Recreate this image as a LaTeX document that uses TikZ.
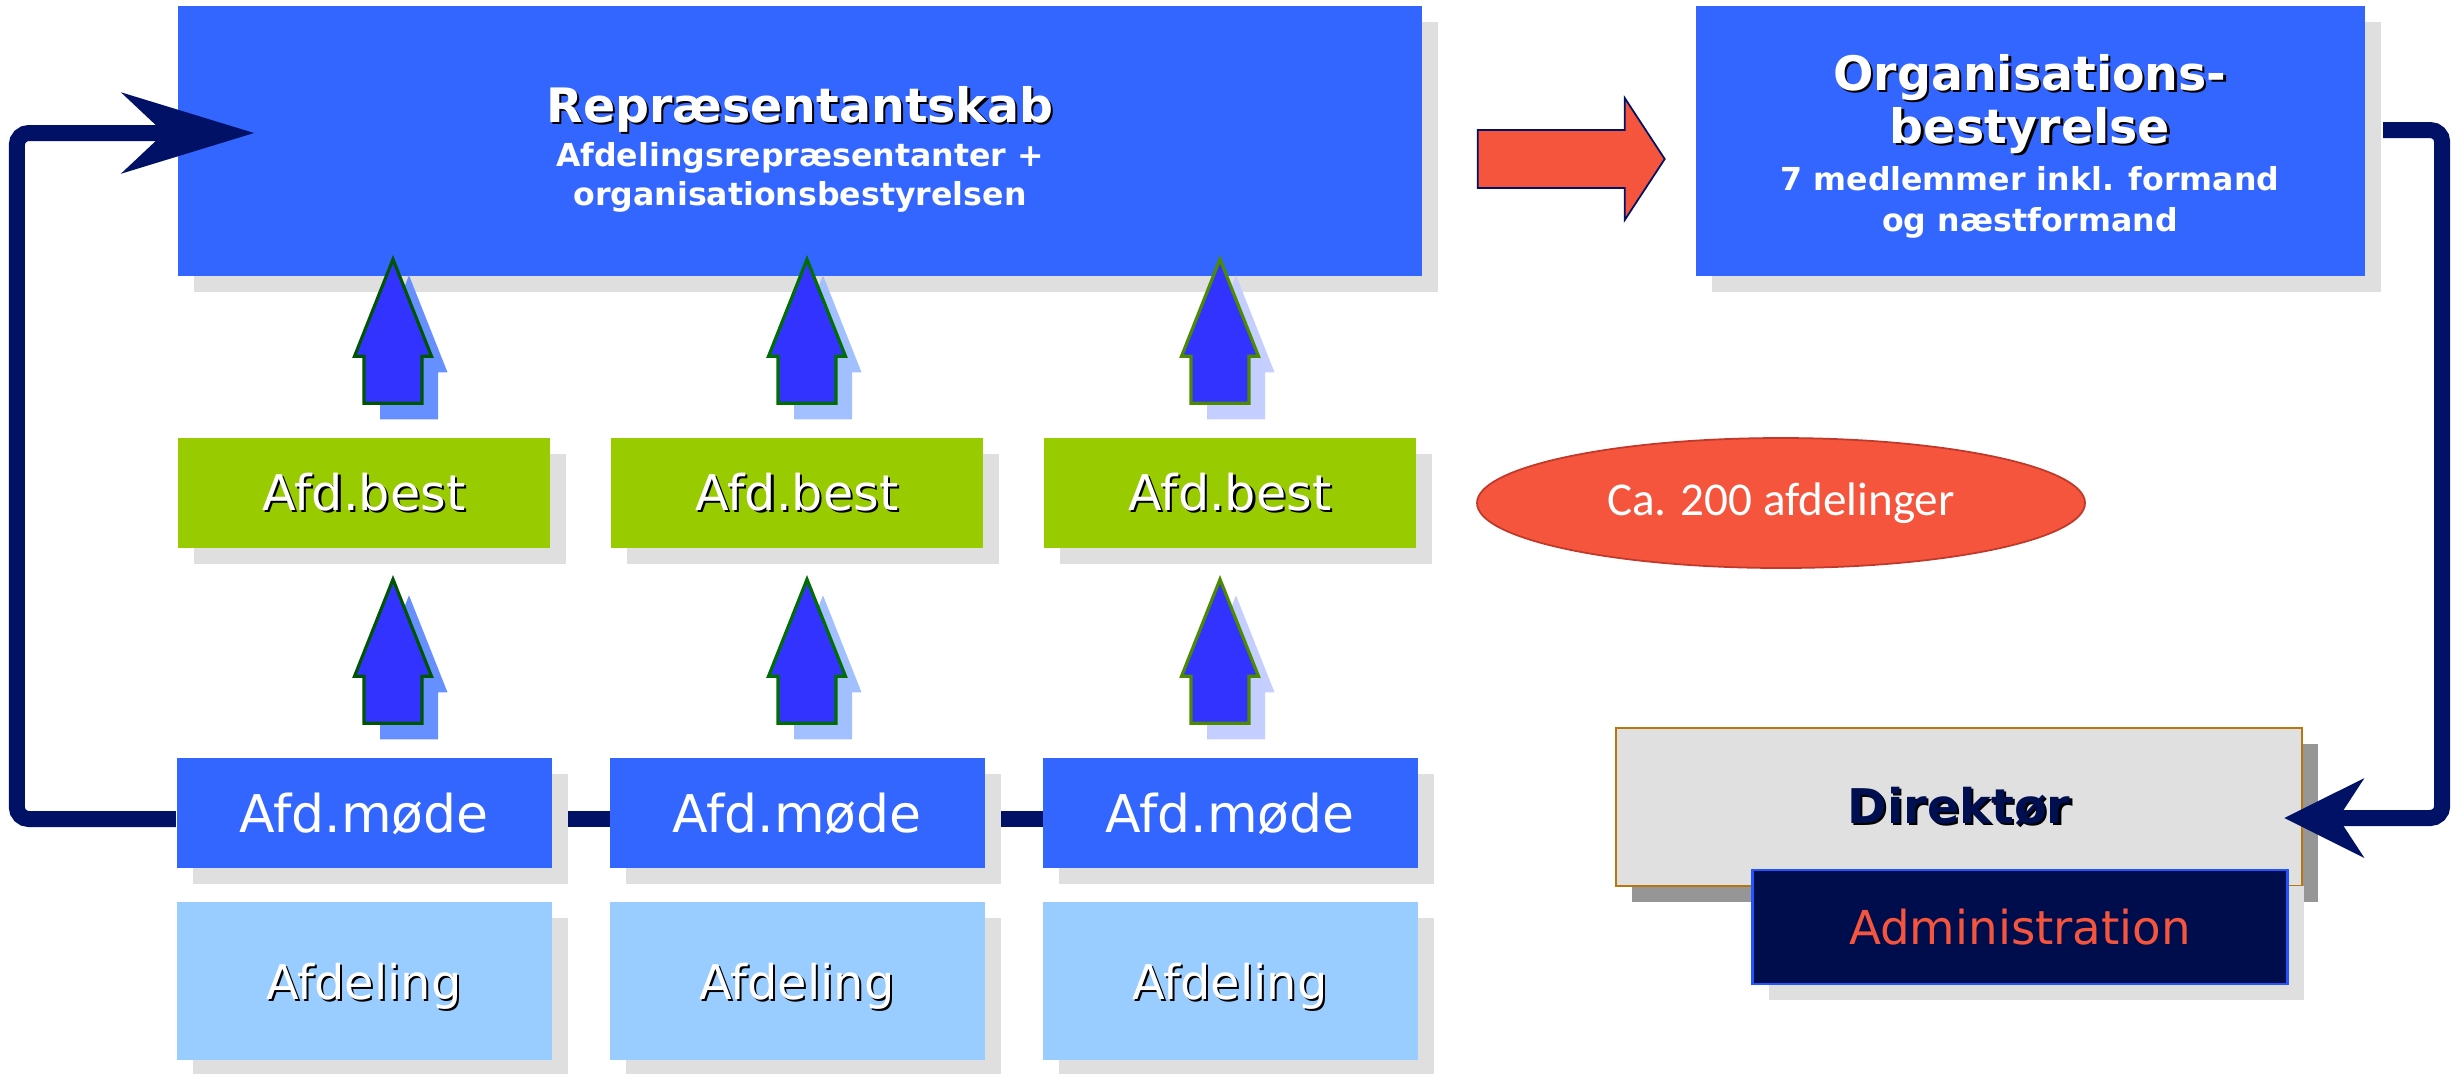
\documentclass[tikz,border=0pt]{standalone}
\usepackage{fontspec}
\setmainfont{DejaVu Sans}
\newfontfamily\carlito{Carlito}
\usetikzlibrary{positioning,calc,shadows,shapes.geometric,arrows.meta}
\pgfdeclarelayer{background}
\pgfsetlayers{background,main}

\definecolor{boxblue}{HTML}{3366FF}
\definecolor{bestgreen}{HTML}{99CC00}
\definecolor{afdblue}{HTML}{99CCFF}
\definecolor{shadowgrey}{HTML}{DFDFDF}
\definecolor{navy}{RGB}{0,17,102}
\definecolor{arrowblue}{HTML}{3333FF}
\definecolor{rimA}{HTML}{005500}
\definecolor{rimB}{HTML}{006E00}
\definecolor{rimC}{HTML}{4C8A00}
\definecolor{shadeA}{HTML}{6690FF}
\definecolor{shadeB}{HTML}{A2BFFF}
\definecolor{shadeC}{HTML}{C4CEFF}
\definecolor{redfill}{RGB}{245,85,60}
\definecolor{ovalrim}{HTML}{C0392B}
\definecolor{dirgrey}{HTML}{E0E0E0}
\definecolor{dirrim}{HTML}{B8760F}
\definecolor{dirshadow}{HTML}{969696}
\definecolor{dirtext}{RGB}{0,15,80}
\definecolor{admnavy}{RGB}{0,13,77}
\definecolor{admrim}{HTML}{2255FF}

% white text with a small dark shadow
\newcommand{\txtshadow}[1]{\makebox[0pt][l]{\raisebox{-0.6pt}{\hspace{0.6pt}\textcolor{black}{#1}}}#1}

\begin{document}
\begin{tikzpicture}[node distance=4.33cm]
    % Define styles for boxes and arrows
    \tikzset{greyshadow/.style={drop shadow={shadow xshift=0.16cm, shadow yshift=-0.16cm, fill=#1, opacity=1}}}
    \tikzstyle{bigbox} = [rectangle, fill=boxblue, text=white, align=center, minimum height=2.7cm, greyshadow=shadowgrey]
    \tikzstyle{bestbox} = [rectangle, fill=bestgreen, text=white, minimum width=3.72cm, minimum height=1.1cm, font=\fontsize{14}{16}\selectfont, greyshadow=shadowgrey]
    \tikzstyle{modebox} = [rectangle, fill=boxblue, text=white, minimum width=3.75cm, minimum height=1.1cm, font=\fontsize{14.8}{17}\selectfont, text depth=0pt, greyshadow=shadowgrey]
    \tikzstyle{afdbox} = [rectangle, fill=afdblue, text=white, minimum width=3.75cm, minimum height=1.58cm, font=\fontsize{13.6}{16}\selectfont, text depth=0pt, greyshadow=shadowgrey]
    \tikzstyle{countoval} = [ellipse, fill=redfill, draw=ovalrim, line width=0.5pt, text=white, minimum width=6.08cm, minimum height=1.3cm, font=\carlito\fontsize{13.4}{16}\selectfont]
    \tikzstyle{dirbox} = [rectangle, fill=dirgrey, draw=dirrim, line width=0.7pt, text=dirtext, minimum width=6.86cm, minimum height=1.58cm, font=\bfseries\fontsize{13.6}{16}\selectfont, greyshadow=dirshadow]
    \tikzstyle{admbox} = [rectangle, fill=admnavy, draw=admrim, line width=0.7pt, text=redfill, minimum width=5.35cm, minimum height=1.14cm, font=\fontsize{13.3}{16}\selectfont, greyshadow=shadowgrey]
    % Connectors
    \tikzstyle{loopline} = [line width=1.6mm, draw=navy, rounded corners=1.2mm]
    \tikzstyle{uparrow} = [fill=arrowblue, line width=0.9pt]
    \tikzstyle{redblock} = [fill=redfill, draw=navy, line width=0.5pt]

    \useasboundingbox (0,0) rectangle (24.63,-10.73);

    % Nodes
    \node (rep) [bigbox, minimum width=12.44cm] at (8.00,-1.41) {{\fontsize{13.5}{16}\selectfont\bfseries\rule{0pt}{15pt}\txtshadow{Repræsentantskab}}\\[0.4pt]
        {\fontsize{9}{10.5}\selectfont\bfseries Afdelingsrepræsentanter +}\\[-1pt]
        {\fontsize{9}{10.5}\selectfont\bfseries organisationsbestyrelsen}};
    \node (org) [bigbox, minimum width=6.69cm] at (20.30,-1.41) {{\fontsize{13.5}{16.2}\selectfont\bfseries\rule{0pt}{13.2pt}\txtshadow{Organisations-}}\\[0.3pt]
        {\fontsize{13.5}{16.2}\selectfont\bfseries\txtshadow{bestyrelse}}\\[1.5pt]
        {\fontsize{9}{10.2}\selectfont\bfseries 7 medlemmer inkl. formand}\\[-0.5pt]
        {\fontsize{9}{10.2}\selectfont\bfseries og næstformand}};

    \node (best1) [bestbox] at (3.64,-4.93) {\txtshadow{Afd.best}};
    \node (best2) [bestbox, right of=best1] {\txtshadow{Afd.best}};
    \node (best3) [bestbox, right of=best2] {\txtshadow{Afd.best}};

    \node (mode1) [modebox, below of=best1, node distance=3.2cm] {Afd.møde};
    \node (mode2) [modebox, right of=mode1] {Afd.møde};
    \node (mode3) [modebox, right of=mode2] {Afd.møde};

    \node (afd1) [afdbox, below of=mode1, node distance=1.68cm] {\txtshadow{Afdeling}};
    \node (afd2) [afdbox, right of=afd1] {\txtshadow{Afdeling}};
    \node (afd3) [afdbox, right of=afd2] {\txtshadow{Afdeling}};

    \node (count) [countoval] at (17.81,-5.03) {Ca. 200 afdelinger};
    \node (dir) [dirbox] at (19.59,-8.07) {\txtshadow{Direktør}};
    \node (adm) [admbox] at (20.20,-9.27) {Administration};

    % Line behind the meetings
    \begin{pgfonlayer}{background}
        \draw [loopline] ($(mode1)+(0,-0.06)$) -- ($(mode3)+(0,-0.06)$);
    \end{pgfonlayer}

    % Loops
    \draw [loopline, -{Stealth[length=13.2mm, width=8mm, inset=4.2mm]}] ($(mode1.west)+(0,-0.06)$) -- ++(-1.59,0) |- ($(rep.west)+(0.77,0.08)$);
    \draw [loopline, -{Stealth[length=7.9mm, width=7.8mm, inset=2.5mm]}] ($(org.east)+(0.18,0.11)$) -- ++(0.59,0) |- ($(dir.east)+(-0.19,-0.11)$);

    % Block arrow to the board
    \draw [redblock] ($(rep.east)+(0.55,-0.18)$) ++(0,0.29) -- ++(1.47,0) -- ++(0,0.32) -- ++(0.40,-0.61) -- ++(-0.40,-0.61) -- ++(0,0.32) -- ++(-1.47,0) -- cycle;

    % Up arrows
    \foreach \i/\dx/\sh/\rim in {1/0.29/shadeA/rimA, 2/0.10/shadeB/rimB, 3/-0.10/shadeC/rimC} {
        \foreach \row in {mode,best} {
            \path ($(\row\i.north)+(\dx,0.34)$) coordinate (base);
            \fill [\sh] (base) ++(0.16,-0.16) ++(-0.29,0) -- ++(0,0.47) -- ++(-0.095,0) -- ++(0.385,0.97) -- ++(0.385,-0.97) -- ++(-0.095,0) -- ++(0,-0.47) -- cycle;
            \filldraw [uparrow, draw=\rim] (base) ++(-0.29,0) -- ++(0,0.47) -- ++(-0.095,0) -- ++(0.385,0.97) -- ++(0.385,-0.97) -- ++(-0.095,0) -- ++(0,-0.47) -- cycle;
        }
    }
\end{tikzpicture}
\end{document}
